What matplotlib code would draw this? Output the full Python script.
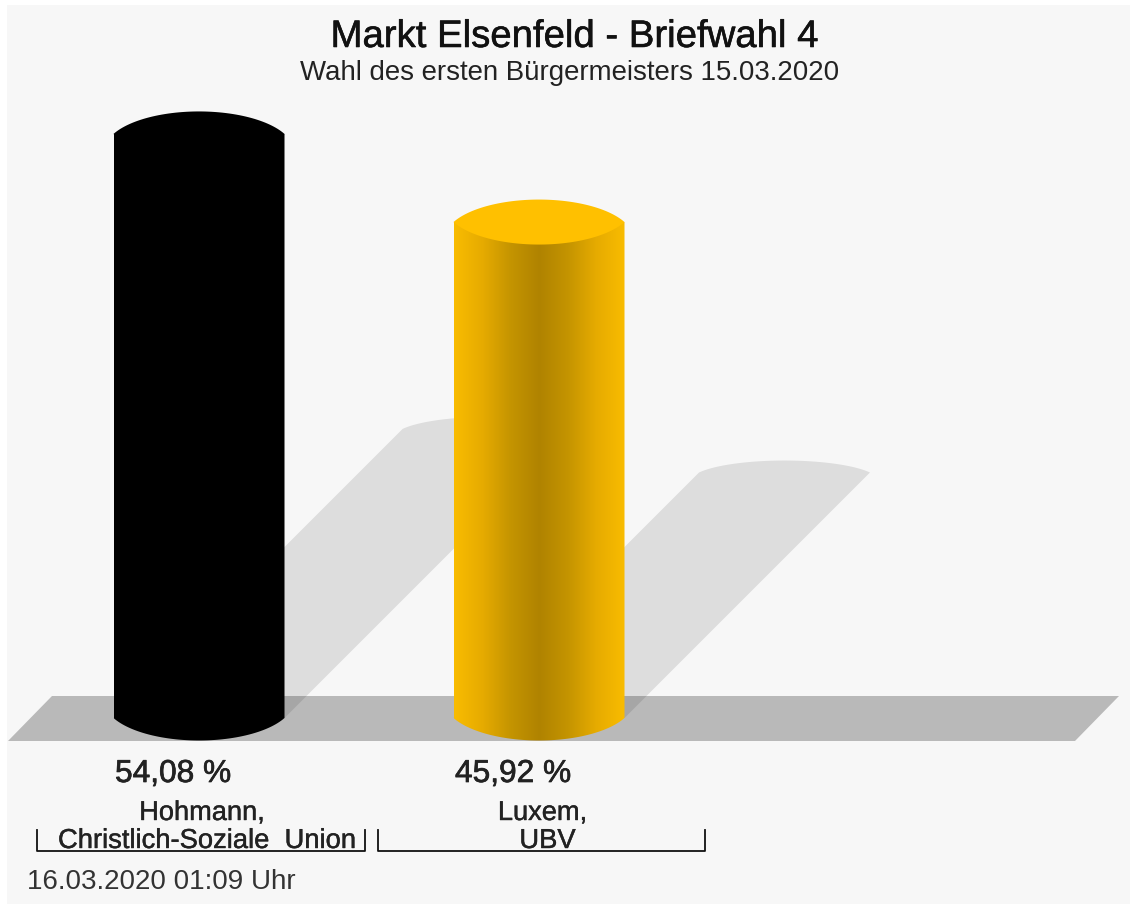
import matplotlib
matplotlib.use('Agg')
import matplotlib.pyplot as plt
import matplotlib.patheffects as pe
import numpy as np
from matplotlib.colors import LinearSegmentedColormap
from matplotlib.patches import PathPatch, Polygon, Rectangle
from matplotlib.path import Path

plt.rcParams['font.family'] = ['Liberation Sans', 'DejaVu Sans']

title = 'Markt Elsenfeld - Briefwahl 4'
subtitle = 'Wahl des ersten Bürgermeisters 15.03.2020'
footer = '16.03.2020 01:09 Uhr'
names = ['Hohmann,', 'Luxem,']
parties = ['Christlich-Soziale  Union', 'UBV']
shares = [54.08, 45.92]
share_labels = ['54,08 %', '45,92 %']
side_colors = [['#000000'] * 4, ['#f9bc00', '#e6ab00', '#c49400', '#b08300']]
top_colors = ['#000000', '#ffc000']

W, H = 1133, 906
X_UNIT = 340.0   # pixels between two bars
Y_UNIT = 10.8    # pixels per percent
X0, Y0 = 199.0, 718.0  # pixel position of first bar, base
BAR_HALF = 85.5 / X_UNIT
CAP = 22.5 / Y_UNIT
SHADOW = 0.495


def sx(px):
    return (px - X0) / X_UNIT


def sy(py):
    return (Y0 - py) / Y_UNIT


def arc(cx, cy, a, b):
    # flat arc from the right corner to the left one, b is its height (negative = downward)
    t0 = np.radians(25)
    t = np.linspace(t0, np.pi - t0, 60)
    x = cx + a * np.cos(t) / np.cos(t0)
    y = cy + b * (np.sin(t) - np.sin(t0)) / (1 - np.sin(t0))
    return list(zip(x, y))


fig = plt.figure(figsize=(W / 100, H / 100), dpi=100, facecolor='white')
ax = fig.add_axes([0, 0, 1, 1])
ax.set_xlim(sx(0), sx(W))
ax.set_ylim(sy(H), sy(0))
ax.axis('off')

ax.add_patch(Rectangle((sx(7), sy(904)), sx(1130) - sx(7), sy(5) - sy(904),
                       fc='#f7f7f7', ec='none', zorder=0))

# floor
ax.add_patch(Polygon([(sx(8), sy(741)), (sx(1075), sy(741)),
                      (sx(1119), sy(696)), (sx(52), sy(696))],
                     fc='#b9b9b9', ec='none', zorder=1))

for i, (value, sides, top) in enumerate(zip(shares, side_colors, top_colors)):
    # shadow, slanted up to the right
    rise = value * SHADOW
    shift = rise * Y_UNIT / X_UNIT
    pts = [(i - BAR_HALF, 0), (i + BAR_HALF, 0)] + arc(i + shift, rise, BAR_HALF, 12 / Y_UNIT)
    ax.add_patch(Polygon(pts, fc='black', alpha=0.1, ec='none', zorder=2))

    # cylinder body with horizontal shading
    cmap = LinearSegmentedColormap.from_list('side', sides + sides[-2::-1])
    grad = np.linspace(0, 1, 256).reshape(1, -1)
    left, right = i - BAR_HALF, i + BAR_HALF
    im = ax.imshow(grad, cmap=cmap, aspect='auto', zorder=3,
                   extent=[left, right, -CAP, value])
    verts = arc(i, 0, BAR_HALF, -CAP)[::-1] + [(right, value), (left, value), (left, 0)]
    codes = [Path.MOVETO] + [Path.LINETO] * (len(verts) - 1)
    clip = PathPatch(Path(verts, codes), transform=ax.transData, fc='none', ec='none')
    ax.add_patch(clip)
    im.set_clip_path(clip)

    cap = arc(i, value, BAR_HALF, CAP) + arc(i, value, BAR_HALF, -CAP)[::-1]
    ax.add_patch(Polygon(cap, fc=top, ec='none', zorder=4))

ax.set_xlim(sx(0), sx(W))
ax.set_ylim(sy(H), sy(0))


def put(x, y, s, size, color='#222222', heavy=0.0, ha='center'):
    txt = ax.text(sx(x), sy(y), s, fontsize=size, ha=ha, va='baseline', color=color)
    if heavy:
        txt.set_path_effects([pe.withStroke(linewidth=heavy, foreground=color)])


put(575, 47, title, 27.6, color='#111111', heavy=0.4)
put(570, 80, subtitle, 19.9)

for i, lab in enumerate(share_labels):
    put(173 + i * 340, 782, lab, 22.8, heavy=0.5)

centers = [201, 541.5]
halves = [164, 163.5]
for c, h, name, party in zip(centers, halves, names, parties):
    ax.plot([sx(c - h), sx(c - h), sx(c + h), sx(c + h)],
            [sy(830), sy(851), sy(851), sy(830)], color='#111111', lw=1.3, zorder=5)
    put(c + 1, 820, name, 19.6, heavy=0.3)
    put(c + 6, 848, party, 19.7, heavy=0.3)

put(27, 889, footer, 20, color='#333333', ha='left')

fig.savefig('out.png', dpi=100, facecolor=fig.get_facecolor())
